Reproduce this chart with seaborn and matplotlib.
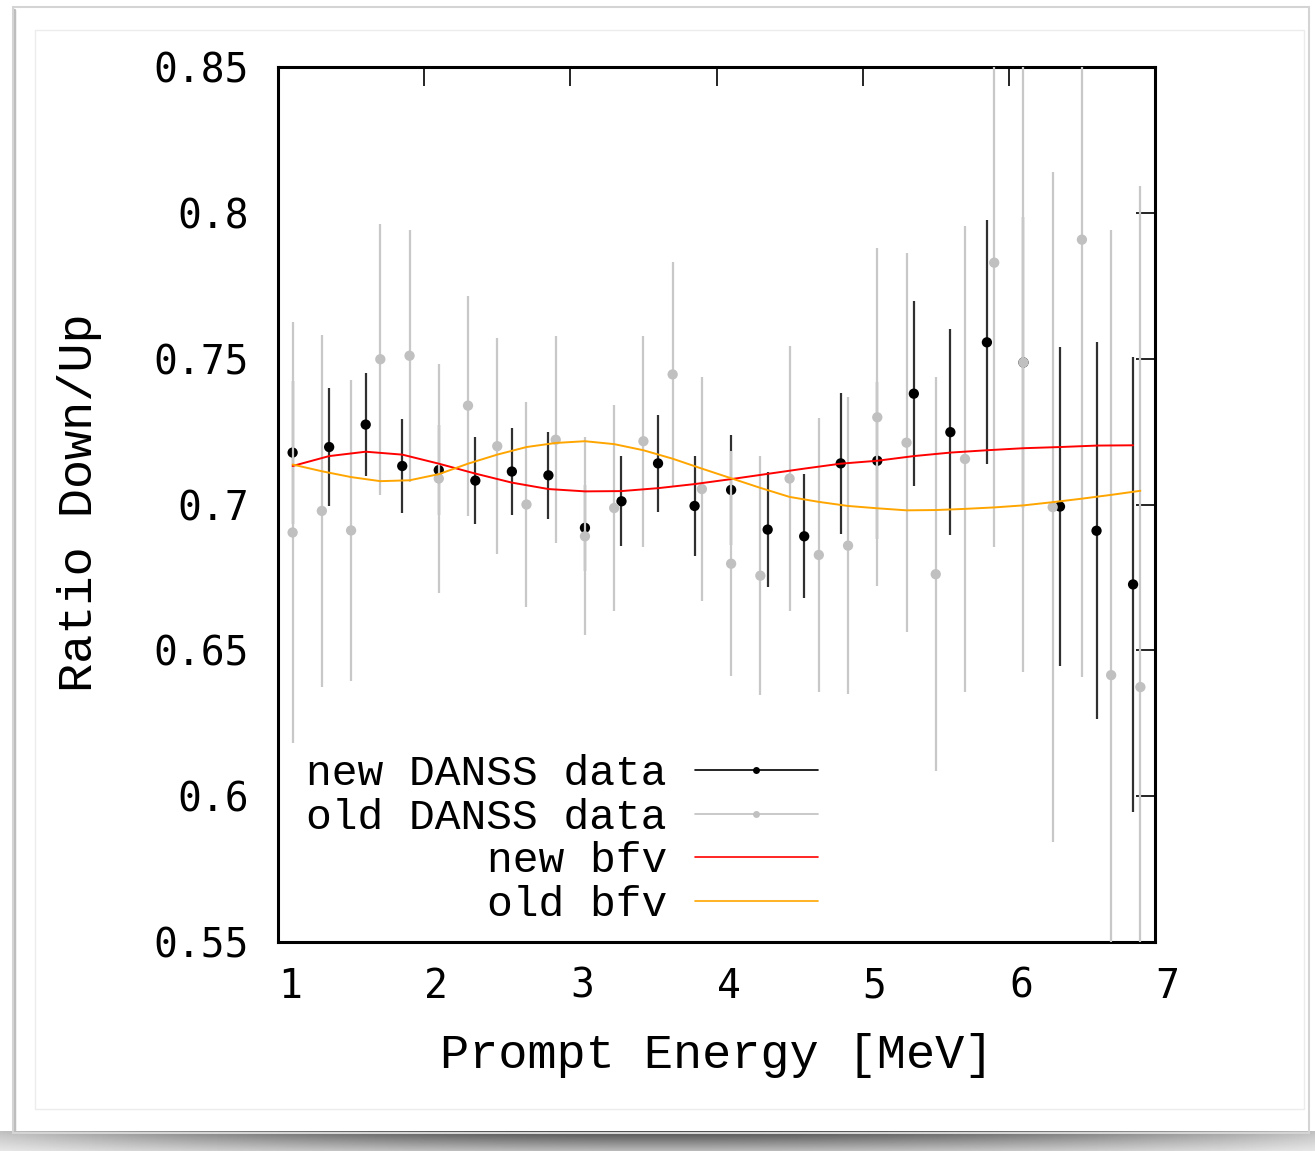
import numpy as np
import pandas as pd
import matplotlib
matplotlib.use("Agg")
import matplotlib.pyplot as plt
import seaborn as sns
from matplotlib.lines import Line2D
from matplotlib.patches import Rectangle
from matplotlib.transforms import ScaledTranslation

# ---------------- data ----------------
new_energy = [1.10, 1.35, 1.60, 1.85, 2.10, 2.35, 2.60, 2.85, 3.10, 3.35, 3.60, 3.85,
              4.10, 4.35, 4.60, 4.85, 5.10, 5.35, 5.60, 5.85, 6.10, 6.35, 6.60, 6.85]
new_ratio = [0.7178, 0.7197, 0.7274, 0.7132, 0.7118, 0.7082, 0.7113, 0.7100, 0.6920, 0.7011,
             0.7141, 0.6995, 0.7050, 0.6914, 0.6891, 0.7141, 0.7150, 0.7380, 0.7248, 0.7556,
             0.7487, 0.6993, 0.6910, 0.6726]
new_err = [0.0245, 0.0203, 0.0176, 0.0161, 0.0155, 0.0150, 0.0150, 0.0149, 0.0147, 0.0154,
           0.0167, 0.0173, 0.0188, 0.0196, 0.0213, 0.0243, 0.0269, 0.0318, 0.0353, 0.0418,
           0.0498, 0.0548, 0.0647, 0.0780]
new_bfv = [0.7132, 0.7166, 0.7181, 0.7171, 0.7140, 0.7106, 0.7075, 0.7053, 0.7045, 0.7046,
           0.7056, 0.7070, 0.7087, 0.7105, 0.7123, 0.7140, 0.7150, 0.7166, 0.7178, 0.7186,
           0.7193, 0.7197, 0.7202, 0.7203]

old_energy = [1.1, 1.3, 1.5, 1.7, 1.9, 2.1, 2.3, 2.5, 2.7, 2.9, 3.1, 3.3, 3.5, 3.7, 3.9,
              4.1, 4.3, 4.5, 4.7, 4.9, 5.1, 5.3, 5.5, 5.7, 5.9, 6.1, 6.3, 6.5, 6.7, 6.9]
old_ratio = [0.6904, 0.6978, 0.6911, 0.7498, 0.7510, 0.7089, 0.7339, 0.7200, 0.7000, 0.7222,
             0.6891, 0.6988, 0.7217, 0.7446, 0.7053, 0.6797, 0.6756, 0.7089, 0.6827, 0.6859,
             0.7299, 0.7212, 0.6761, 0.7156, 0.7829, 0.7487, 0.6991, 0.7908, 0.6415, 0.6374]
old_err = [0.0721, 0.0603, 0.0517, 0.0465, 0.0432, 0.0394, 0.0377, 0.0370, 0.0353, 0.0355,
           0.0340, 0.0352, 0.0362, 0.0385, 0.0384, 0.0386, 0.0410, 0.0453, 0.0470, 0.0510,
           0.0580, 0.0650, 0.0676, 0.0798, 0.0975, 0.1060, 0.1148, 0.1500, 0.1526, 0.1718]
old_bfv = [0.7137, 0.7114, 0.7094, 0.7080, 0.7083, 0.7104, 0.7140, 0.7171, 0.7197, 0.7211,
           0.7217, 0.7207, 0.7186, 0.7157, 0.7123, 0.7090, 0.7057, 0.7026, 0.7009, 0.6995,
           0.6987, 0.6980, 0.6981, 0.6985, 0.6990, 0.6997, 0.7008, 0.7020, 0.7033, 0.7047]

x_ticks = [1, 2, 3, 4, 5, 6, 7]
y_ticks = [0.55, 0.60, 0.65, 0.70, 0.75, 0.80, 0.85]
y_tick_labels = ["0.55", "0.6", "0.65", "0.7", "0.75", "0.8", "0.85"]
legend_labels = ["new DANSS data", "old DANSS data", "new bfv", "old bfv"]

new_df = pd.DataFrame({"E": new_energy, "R": new_ratio, "err": new_err, "bfv": new_bfv})
old_df = pd.DataFrame({"E": old_energy, "R": old_ratio, "err": old_err, "bfv": old_bfv})

# ---------------- style ----------------
sns.set_theme(style="white")
plt.rcParams['font.family'] = ['Liberation Mono', 'DejaVu Sans Mono']

W, H = 1315, 1151
fig = plt.figure(figsize=(W / 100, H / 100), dpi=100)
fig.patch.set_facecolor("white")

# card-like decoration (outer frame, inner frame, bottom shadow)
fig.patches.append(Rectangle((13 / W, 1 - 1133 / H), (1309 - 13) / W, (1133 - 7) / H,
                             transform=fig.transFigure, fill=False, ec="#d4d4d4", lw=1.5, zorder=0))
fig.patches.append(Rectangle((35 / W, 1 - 1109 / H), (1304 - 35) / W, (1109 - 30) / H,
                             transform=fig.transFigure, fill=False, ec="#ececec", lw=1.0, zorder=0))
fig.add_artist(Line2D([14 / W, 14 / W], [1 - 1133 / H, 1 - 10 / H], transform=fig.transFigure,
                      color="#bdbdbd", lw=2.5, zorder=0))
sax = fig.add_axes([0, 0, 1, 20 / H])
gx = np.linspace(-1, 1, 400)
gy = np.linspace(0, 1, 20)[:, None]
dark = (0.7 - 0.45 * gx ** 2)[None, :] * (1 - 0.6 * gy)
sax.imshow(1 - dark, cmap="gray", vmin=0, vmax=1, aspect="auto", extent=(0, 1, 0, 1))
sax.set_axis_off()

ax = fig.add_axes([278 / W, 1 - 942 / H, 877 / W, 875 / H])

# new data
ax.errorbar(new_df["E"], new_df["R"], yerr=new_df["err"], fmt="none",
            ecolor="#303030", elinewidth=1.6, capsize=0, zorder=2)
sns.scatterplot(data=new_df, x="E", y="R", color="black", s=55, edgecolor="none",
                ax=ax, zorder=3, legend=False)
# old data
ax.errorbar(old_df["E"], old_df["R"], yerr=old_df["err"], fmt="none",
            ecolor="#c8c8c8", elinewidth=1.6, capsize=0, zorder=4)
sns.scatterplot(data=old_df, x="E", y="R", color="#c0c0c0", s=55, edgecolor="none",
                ax=ax, zorder=5, legend=False)
# best fit values
sns.lineplot(data=new_df, x="E", y="bfv", color="#ff0000", lw=1.4, ax=ax,
             estimator=None, sort=False, zorder=6)
sns.lineplot(data=old_df, x="E", y="bfv", color="#ffa500", lw=1.4, ax=ax,
             estimator=None, sort=False, zorder=7)

ax.set_xlim(1, 7)
ax.set_ylim(0.55, 0.85)
ax.set_xticks(x_ticks)
ax.set_xticklabels([str(t) for t in x_ticks])
ax.set_yticks(y_ticks)
ax.set_yticklabels(y_tick_labels)

for sp in ax.spines.values():
    sp.set_visible(True)
    sp.set_color("black")
    sp.set_linewidth(2.2)

ax.tick_params(axis="both", which="major", direction="in", length=14, width=1.2,
               color="black", top=True, right=True, labelsize=28.5, labelcolor="black")
ax.tick_params(axis="y", pad=21)
ax.tick_params(axis="x", pad=18)
for lab in ax.get_xticklabels() + ax.get_yticklabels():
    lab.set_fontfamily("DejaVu Sans Mono")
off = ScaledTranslation(12 / 100, 0, fig.dpi_scale_trans)
for lab in ax.get_xticklabels():
    lab.set_transform(lab.get_transform() + off)

ax.set_xlabel("Prompt Energy [MeV]", fontsize=35, color="black")
ax.set_ylabel("Ratio Down/Up", fontsize=35, color="black")
ax.xaxis.set_label_coords(0.5, (942 - 1055) / 875)
ax.xaxis.label.set_verticalalignment("center")
ax.yaxis.set_label_coords((80 - 278) / 877, (942 - 503) / 875)
ax.yaxis.label.set_verticalalignment("center")

handles = [
    Line2D([], [], color="black", lw=1.2, marker="o", ms=5, mec="none"),
    Line2D([], [], color="#c0c0c0", lw=1.2, marker="o", ms=5, mec="none"),
    Line2D([], [], color="#ff0000", lw=1.2),
    Line2D([], [], color="#ffa500", lw=1.2),
]
leg = ax.legend(handles, legend_labels, loc="center right",
                bbox_to_anchor=((818 - 278) / 877, (942 - 839.5) / 875),
                frameon=False, markerfirst=False, fontsize=31, handlelength=2.86,
                handletextpad=0.65, labelspacing=0.08, borderpad=0, borderaxespad=0)
for t in leg.get_texts():
    t.set_color("black")

fig.savefig("out.png", dpi=100)
